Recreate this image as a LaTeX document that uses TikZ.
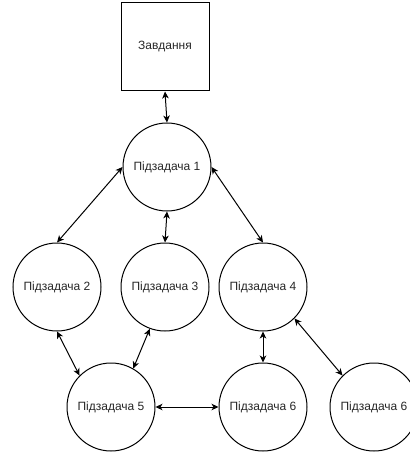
\documentclass[tikz,border=0pt]{standalone}
\usepackage{fontspec}
\setmainfont{Liberation Sans}
\usetikzlibrary{arrows.meta}

\begin{document}
\begin{tikzpicture}[x=1pt,y=-1pt,
    task/.style={draw,line width=1pt,minimum size=88pt,inner sep=0pt,
      font=\fontsize{12}{14}\selectfont,text=black!85},
    sub/.style={draw,circle,line width=1pt,minimum size=88pt,inner sep=0pt,
      font=\fontsize{12}{14}\selectfont,text=black!85},
    link/.style={{Stealth[length=7pt,width=6.5pt,inset=2pt]}-{Stealth[length=7pt,width=6.5pt,inset=2pt]},
      line width=1pt}]
    \useasboundingbox (0,0) rectangle (409,454);

    % task and subtasks
    \node[task] (zav) at (165,47) {Завдання};
    \node[sub] (p1) at (167,167) {Підзадача 1};
    \node[sub] (p2) at (57,287) {Підзадача 2};
    \node[sub] (p3) at (165,287) {Підзадача 3};
    \node[sub] (p4) at (263,287) {Підзадача 4};
    \node[sub] (p5) at (111,407) {Підзадача 5};
    \node[sub] (p6) at (263,407) {Підзадача 6};
    \node[sub] (p6b) at (374,407) {Підзадача 6};

    % links
    \draw[link] (zav.south) -- (p1.north);
    \draw[link] (p1.west) -- (p2.north);
    \draw[link] (p1.south) -- (p3.north);
    \draw[link] (p1.east) -- (p4.north);
    \draw[link] (p2.south) -- (p5.north west);
    \draw[link] (p3.250) -- (p5.60);
    \draw[link] (p4.south) -- (p6.north);
    \draw[link] (p4.south east) -- (p6b.north west);
    \draw[link] (p5.east) -- (p6.west);
\end{tikzpicture}
\end{document}
